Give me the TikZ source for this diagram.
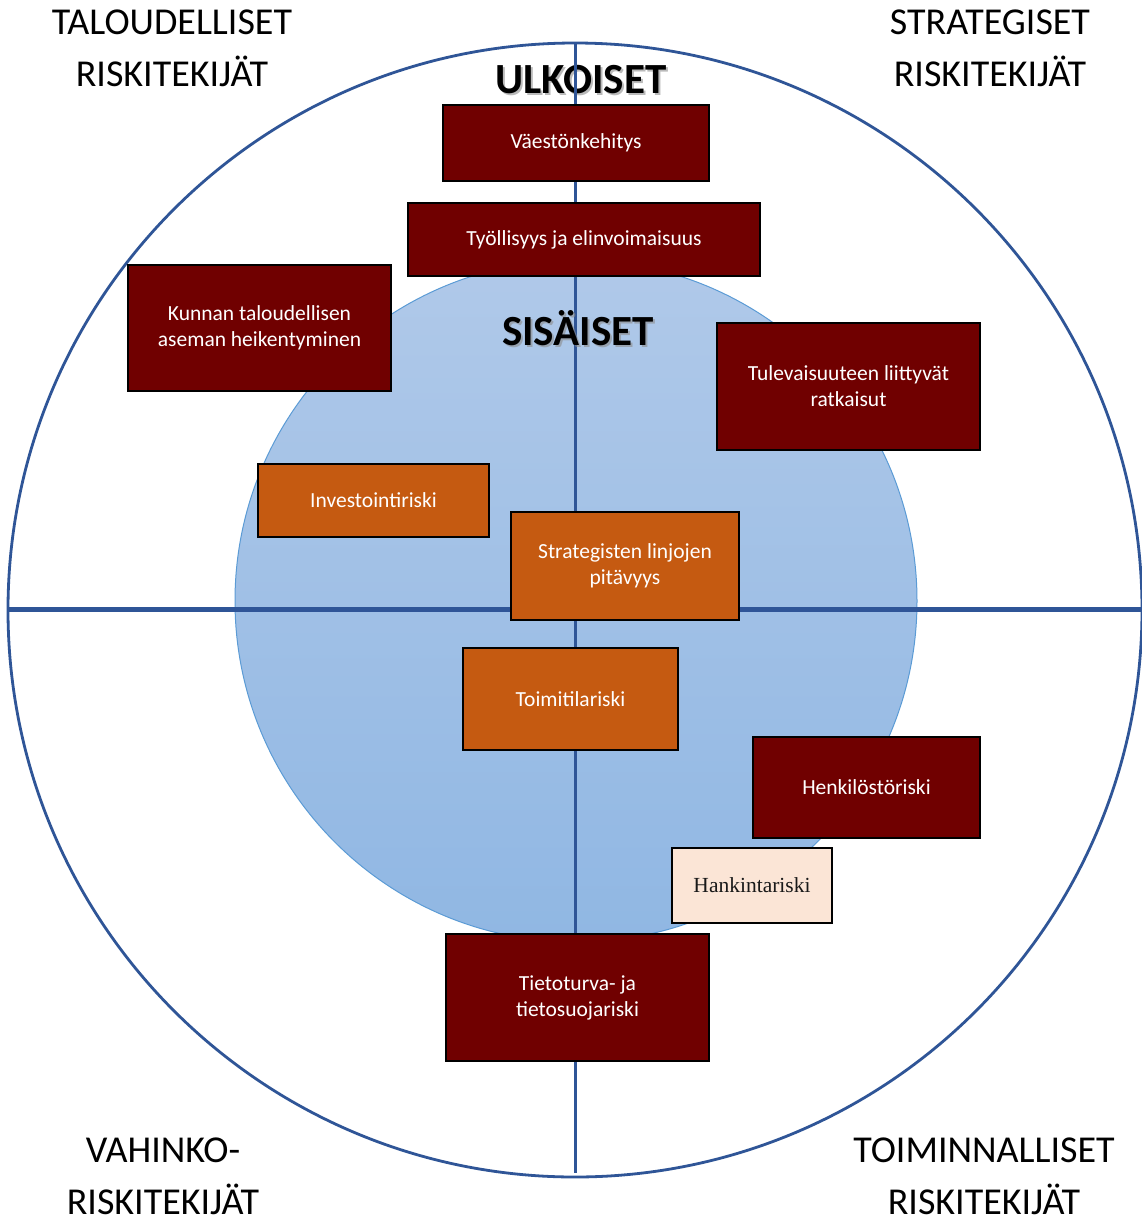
\documentclass[tikz,border=0pt]{standalone}
\usepackage{fontspec}
\setmainfont{Carlito}
\newfontfamily\boxserif{Liberation Serif}
\definecolor{lineblue}{RGB}{47,85,151}
\definecolor{darkred}{RGB}{112,0,0}
\definecolor{riskorange}{RGB}{197,90,17}
\definecolor{peach}{RGB}{251,229,214}
\definecolor{innertop}{RGB}{176,201,233}
\definecolor{innerbottom}{RGB}{144,183,227}
\definecolor{innerborder}{RGB}{91,155,213}
\tikzset{
  riskbox/.style={draw=black, line width=1.2pt, text=white, align=center,
    font=\fontsize{21.5}{26}\selectfont, inner sep=0pt},
  redbox/.style={riskbox, fill=darkred},
  orangebox/.style={riskbox, fill=riskorange},
  peachbox/.style={riskbox, fill=peach, text=black!90, font=\boxserif\fontsize{21.5}{26}\selectfont},
  corner/.style={align=center, inner sep=0pt, font=\fontsize{38}{52}\selectfont},
  bigword/.style={inner sep=0pt, font=\bfseries\fontsize{43}{48}\selectfont, anchor=base},
  axis/.style={draw=lineblue}
}
\begin{document}
\begin{tikzpicture}[x=1pt,y=-1pt]
\useasboundingbox (0,0) rectangle (1142,1224);
\fill[white] (0,0) rectangle (1142,1224);
% circles
\node[circle, draw=lineblue, line width=2.8pt, minimum size=1134pt, inner sep=0pt] (outer) at (575,610) {};
\node[circle, draw=innerborder, line width=1pt, top color=innertop, bottom color=innerbottom, minimum size=682pt, inner sep=0pt] (inner) at (576,601) {};
% ULKOISET (under the line)
\node[bigword, text=black!45, opacity=0.6] at (583,95) {ULKOISET};
\node[bigword] (ulk) at (581,93) {ULKOISET};
% axes
\coordinate (vtop) at (575.5,43);
\coordinate (vbot) at (575.5,1173);
\coordinate (hleft) at (8,609.5);
\coordinate (hright) at (1142,609.5);
\draw[axis, line width=3.2pt] (vtop) -- (vbot);
\draw[axis, line width=4.6pt] (hleft) -- (hright);
% SISÄISET (over the line)
\node[bigword, text=black!45, opacity=0.6] at (580,347) {SISÄISET};
\node[bigword] (sis) at (578,345) {SISÄISET};
% boxes
\node[redbox, minimum width=266pt, minimum height=76pt] (vaesto) at (576,143) {Väestönkehitys};
\node[redbox, minimum width=352pt, minimum height=73pt] (tyoll) at (584,239.5) {Työllisyys ja elinvoimaisuus};
\node[redbox, minimum width=263pt, minimum height=126pt] (kunnan) at (259.5,328) {Kunnan taloudellisen\\aseman heikentyminen};
\node[redbox, minimum width=263pt, minimum height=127pt] (tulev) at (848.5,386.5) {Tulevaisuuteen liittyvät\\ratkaisut};
\node[orangebox, minimum width=231pt, minimum height=73pt] (invest) at (373.5,500.5) {Investointiriski};
\node[orangebox, minimum width=228pt, minimum height=108pt] (strat) at (625,566) {Strategisten linjojen\\pitävyys};
\node[orangebox, minimum width=215pt, minimum height=102pt] (toimi) at (570.5,699) {Toimitilariski};
\node[redbox, minimum width=227pt, minimum height=101pt] (henk) at (866.5,787.5) {Henkilöstöriski};
\node[peachbox, minimum width=160pt, minimum height=75pt] (hank) at (752,885.5) {Hankintariski};
\node[redbox, minimum width=263pt, minimum height=127pt] (tieto) at (577.5,997.5) {Tietoturva- ja\\tietosuojariski};
% corner labels
\node[corner] (talous) at (172,48) {TALOUDELLISET\\RISKITEKIJÄT};
\node[corner] (strateg) at (990,48) {STRATEGISET\\RISKITEKIJÄT};
\node[corner] (vahinko) at (163,1176) {VAHINKO-\\RISKITEKIJÄT};
\node[corner] (toimin) at (984,1176) {TOIMINNALLISET\\RISKITEKIJÄT};
\end{tikzpicture}
\end{document}
